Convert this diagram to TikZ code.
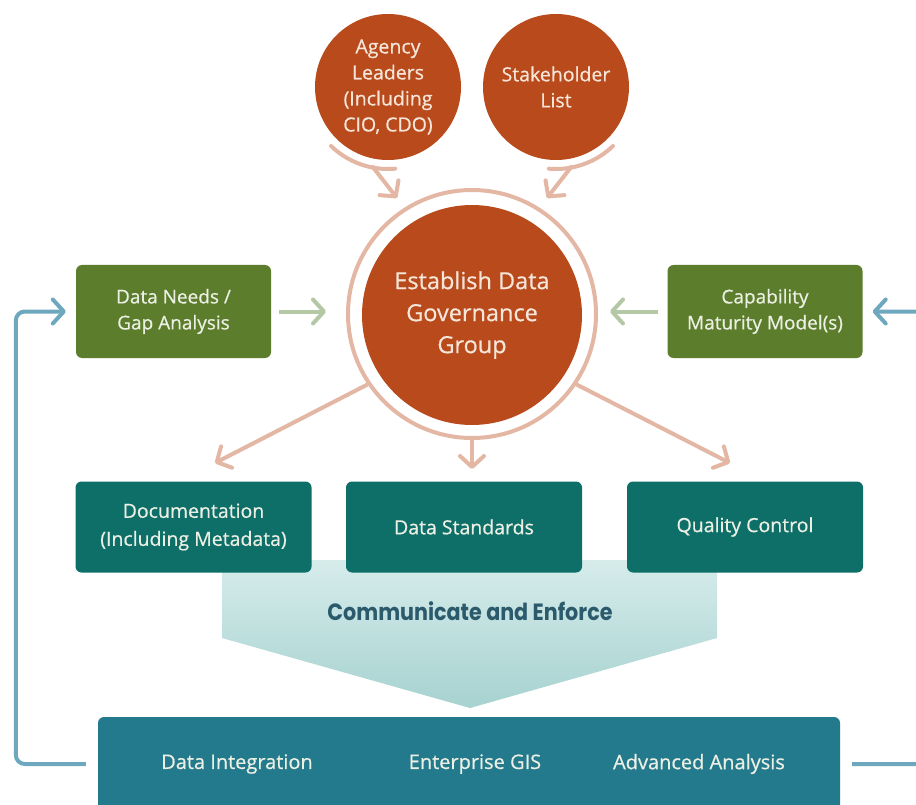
\documentclass[tikz,border=0pt]{standalone}
\usepackage{fontspec}
\setmainfont{Open Sans}
\newfontfamily\bxfont{Open Sans}[FakeBold=0.6]
\newfontfamily\poppfont{Poppins}
\usetikzlibrary{arrows.meta,calc}
\definecolor{orangec}{HTML}{B84A1C}
\definecolor{salmonc}{HTML}{E3B7A3}
\definecolor{olivec}{HTML}{5C7D2C}
\definecolor{greenarr}{HTML}{B4C8A6}
\definecolor{tealc}{HTML}{0E6F69}
\definecolor{botc}{HTML}{237A8D}
\definecolor{bluec}{HTML}{6EA8BF}
\definecolor{boxtext}{HTML}{ECF0E4}
\definecolor{circtext}{HTML}{F6E6DA}
\definecolor{commc}{HTML}{2A5A6B}
\definecolor{chevtop}{HTML}{D6ECEB}
\definecolor{chevbot}{HTML}{A6D2D0}
\begin{document}
\begin{tikzpicture}[x=1pt,y=-1pt,
  tip/.style={-{Straight Barb[length=11pt,width=24pt,round]}},
  salarrow/.style={draw=salmonc, line width=4pt, tip},
  salarc/.style={draw=salmonc, line width=4pt, line cap=round},
  grnarrow/.style={draw=greenarr, line width=4pt, tip},
  bluarrow/.style={draw=bluec, line width=4pt, tip},
  topcirc/.style={circle, fill=orangec, minimum size=146pt, inner sep=0pt,
    text=circtext, align=center, font=\bxfont\fontsize{19.5}{26}\selectfont},
  olivebox/.style={rectangle, rounded corners=6pt, fill=olivec, minimum width=195pt,
    minimum height=93pt, inner sep=0pt, text=boxtext, align=center,
    font=\bxfont\fontsize{19}{26}\selectfont},
  tealbox/.style={rectangle, rounded corners=6pt, fill=tealc, minimum width=236pt,
    minimum height=91pt, inner sep=0pt, text=boxtext, align=center,
    font=\bxfont\fontsize{19.5}{28}\selectfont},
  bottext/.style={text=boxtext, inner sep=0pt, font=\bxfont\fontsize{20}{22}\selectfont}
]
\useasboundingbox (0,0) rectangle (916,805);
\fill[white] (0,0) rectangle (916,805);

% communicate chevron
\shade[top color=chevtop, bottom color=chevbot]
  (222,560) -- (717,560) -- (717,638) -- (470,708) -- (222,638) -- cycle;
\node[font=\poppfont\bfseries\fontsize{23.5}{26}\selectfont, text=commc, inner sep=0pt]
  (comm) at (470,611) {\scalebox{0.88}[1]{Communicate and Enforce}};

% top circles
\node[topcirc] (ag) at (388,87) {Agency\\Leaders\\(Including\\CIO, CDO)};
\node[topcirc] (sh) at (556,87) {Stakeholder\\List};

% central circle
\node[circle, draw=salmonc, line width=4pt, fill=white, minimum size=248pt, inner sep=0pt]
  (ring) at (472,314) {};
\node[circle, fill=orangec, minimum size=220pt, inner sep=0pt, text=circtext, align=center,
  font=\bxfont\fontsize{23.5}{32}\selectfont] (eg) at (472,315) {Establish Data\\Governance\\Group};

% side boxes
\node[olivebox] (dn) at (173.5,311.5) {Data Needs /\\Gap Analysis};
\node[olivebox] (cm) at (765,311.5) {Capability\\Maturity Model(s)};

% teal boxes
\node[tealbox] (doc) at (193.5,527) {Documentation\\(Including Metadata)};
\node[tealbox] (ds) at (464,527) {Data Standards};
\node[tealbox] (qc) at (745,527) {Quality Control};

% bottom box
\node[rectangle, rounded corners=6pt, fill=botc, minimum width=742pt, minimum height=113pt,
  inner sep=0pt] (bot) at (469,773.5) {};
\node[bottext] (di) at (237,764) {Data Integration};
\node[bottext] (eg2) at (475,764) {Enterprise GIS};
\node[bottext] (aa) at (699,764) {Advanced Analysis};

% arcs under the top circles and arrows into the central circle
\draw[salarc] ([shift={(134:82)}]ag.center) arc[start angle=134, end angle=85, radius=82];
\draw[salarc] ([shift={(46:82)}]sh.center) arc[start angle=46, end angle=95, radius=82];
\coordinate (agtip) at (397,198);
\coordinate (shtip) at (547,198);
\draw[salarrow] ([shift={(-16,79)}]ag.center) -- (agtip);
\draw[salarrow] ([shift={(16,79)}]sh.center) -- (shtip);

% arrows from the central circle down
\coordinate (ltip) at (215,463);
\coordinate (mtip) at (472,469);
\coordinate (rtip) at (730,463);
\draw[salarrow] (ring.214) -- (ltip);
\draw[salarrow] (ring.south) -- (mtip);
\draw[salarrow] (ring.326) -- (rtip);

% side arrows
\draw[grnarrow, shorten <=8pt, shorten >=20pt] (dn.east) -- (ring.west |- dn.east);
\draw[grnarrow, shorten <=9pt, shorten >=12pt] (cm.west) -- (ring.east |- cm.west);

% feedback loops
\draw[bluarrow, rounded corners=9pt, shorten <=12pt, shorten >=10pt]
  (bot.west |- di.center) -| ([xshift=-60pt]dn.west) -- (dn.west);
\draw[bluarrow, rounded corners=9pt, shorten <=12pt, shorten >=10pt]
  (bot.east |- di.center) -| ([xshift=80pt]cm.east) -- (cm.east);
\end{tikzpicture}
\end{document}
